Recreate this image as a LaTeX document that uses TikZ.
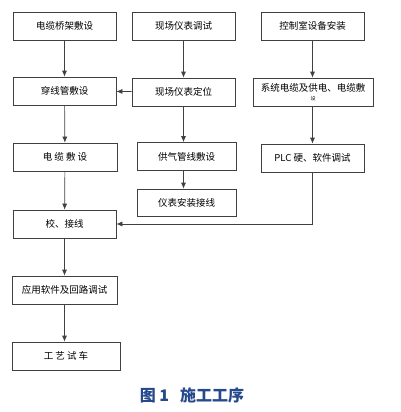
\documentclass[tikz,border=0pt]{standalone}
\usepackage{fontspec}
\newfontfamily\cjk{Noto Sans CJK SC}
\usetikzlibrary{arrows.meta}
\definecolor{capblue}{RGB}{38,72,140}
\begin{document}
\begin{tikzpicture}[
    x=1pt, y=-1pt,
    >={Latex[length=6pt,width=5pt]},
    font=\cjk\fontsize{9.5}{10}\selectfont,
    % Styles
    proc_box/.style={draw=black!75, line width=0.7pt, minimum width=103pt, minimum height=28pt, inner sep=1pt},
    flow_line/.style={->, black!75, line width=0.7pt}
]

    % ==========================================
    % 1. CANVAS
    % ==========================================
    \useasboundingbox (0,0) rectangle (400,412);

    % ==========================================
    % 2. PROCESS BOXES
    % ==========================================
    % Left column
    \node[proc_box] (tray) at (64.5, 26) {电缆桥架敷设};
    \node[proc_box] (conduit) at (64.5, 91) {穿线管敷设};
    \node[proc_box, minimum width=104pt] (cable) at (65, 157) {电 缆 敷 设};
    \node[proc_box] (calib) at (64.5, 224) {校、接线};
    \node[proc_box, minimum width=105pt] (apptest) at (64.5, 290) {应用软件及回路调试};
    \node[proc_box, minimum width=108pt] (trial) at (66, 356) {工 艺 试 车};

    % Middle column
    \node[proc_box] (sitetest) at (183.5, 26) {现场仪表调试};
    \node[proc_box] (siteloc) at (183.5, 92) {现场仪表定位};
    \node[proc_box, minimum width=99pt] (airpipe) at (186.5, 156.5) {供气管线敷设};
    \node[proc_box, minimum width=99pt, minimum height=27pt] (instwire) at (186.5, 202.5) {仪表安装接线};

    % Right column
    \node[proc_box] (ctrlroom) at (312.5, 26) {控制室设备安装};
    \node[proc_box, minimum width=120pt, align=center] (syscable) at (313, 92)
        {系统电缆及供电、电缆敷\\[-1pt]{\fontsize{5}{5}\selectfont 设}};
    \node[proc_box] (plc) at (312.5, 158) {PLC 硬、软件调试};

    % ==========================================
    % 3. CONNECTORS
    % ==========================================
    \draw[flow_line] (tray) -- (conduit);
    \draw[flow_line] (conduit) -- (cable);
    \draw[flow_line] (cable) -- (calib);
    \draw[flow_line] (calib) -- (apptest);
    \draw[flow_line] (apptest.south) -- (apptest.south |- trial.north);

    \draw[flow_line] (sitetest) -- (siteloc);
    \draw[flow_line] (siteloc) -- (conduit);
    \draw[flow_line] (siteloc.south) -- (siteloc.south |- airpipe.north);
    \draw[flow_line] (siteloc.south |- airpipe.south) -- (siteloc.south |- instwire.north);

    \draw[flow_line] (ctrlroom.south) -- (ctrlroom.south |- syscable.north);
    \draw[flow_line] (ctrlroom.south |- syscable.south) -- (plc.north);
    \draw[flow_line] (plc.south) |- (calib.east);

    % ==========================================
    % 4. CAPTION
    % ==========================================
    \node[font=\cjk\bfseries\fontsize{16}{17}\selectfont, text=capblue] (caption) at (192, 395) {图\ 1\ \ \ 施工工序};

\end{tikzpicture}
\end{document}
